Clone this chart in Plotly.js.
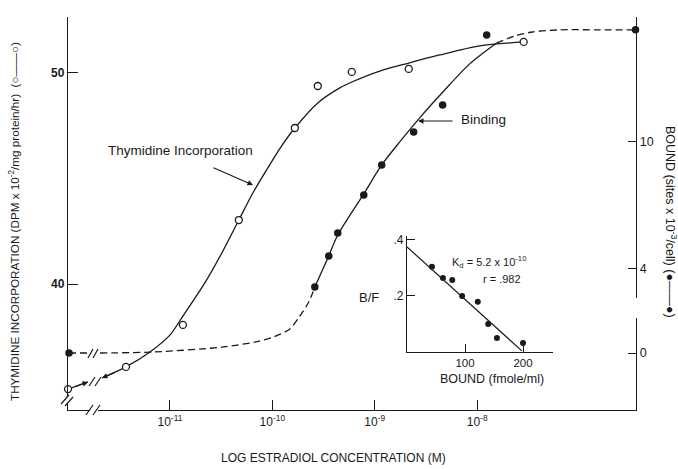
<!DOCTYPE html>
<html>
<head>
<meta charset="utf-8">
<script src="https://cdn.plot.ly/plotly-3.0.1.min.js"></script>
<style>html,body{margin:0;padding:0;background:#fff;}#chart{width:678px;height:469px;}</style>
</head>
<body>
<div id="chart"></div>
<script>
// ---- data (x = log10 molar concentration; -12 = no estradiol) ----
const CONC_THY = [-11.995, -11.429, -10.873, -10.327, -9.780, -9.556, -9.224, -8.668, -7.546];
const THYMIDINE = [35.02, 36.07, 38.06, 43.03, 47.39, 49.38, 50.05, 50.19, 51.47];

const CONC_BIND = [-11.985, -9.585, -9.449, -9.361, -9.107, -8.932, -8.620, -8.337, -7.907, -6.454];
const BINDING = [0, 3.13, 4.60, 5.69, 7.49, 8.91, 10.47, 11.75, 15.07, 15.31];

// hand-drawn curves
const THY_CURVE_X = [-11.995, -11.80, null, -11.663, -11.429, -11.195, -11.0, -10.873, -10.659, -10.493, -10.327, -10.190, -10.044, -9.917, -9.780, -9.556, -9.341, -9.224, -8.951, -8.668, -8.366, -7.976, -7.546];
const THY_CURVE_Y = [35.02, 35.36, null, 35.55, 36.07, 36.78, 37.58, 38.48, 40.05, 41.47, 43.03, 44.31, 45.50, 46.49, 47.39, 48.58, 49.29, 49.57, 50.09, 50.47, 50.85, 51.28, 51.47];

const BIND_LOW_X = [-11.985, -11.80, null, -11.683, -11.146, -10.493, -10.171, -9.990, -9.829, -9.732, -9.644, -9.585];
const BIND_LOW_Y = [0, 0, null, 0, 0.05, 0.28, 0.52, 0.76, 1.14, 1.75, 2.42, 3.13];
const BIND_MID_X = [-9.585, -9.449, -9.361, -9.107, -8.932, -8.756, -8.561, -8.317, -8.073, -7.810];
const BIND_MID_Y = [3.13, 4.60, 5.59, 7.54, 8.91, 10.0, 11.14, 12.46, 13.70, 14.69];
const BIND_HIGH_X = [-7.810, -7.634, -7.459, -7.195, -6.805, -6.454];
const BIND_HIGH_Y = [14.69, 15.02, 15.21, 15.31, 15.31, 15.31];

// Scatchard inset
const BOUND = [43, 62, 78, 95, 122, 140, 155, 200];
const B_OVER_F = [0.304, 0.264, 0.257, 0.200, 0.179, 0.100, 0.050, 0.032];
const FIT_BOUND = [0, 198];
const FIT_BF = [0.375, 0.004];

// tick labels
const X_TICKS = [-11, -10, -9, -8];
const X_TICKTEXT = ['10<sup>-11</sup>', '10<sup>-10</sup>', '10<sup>-9</sup>', '10<sup>-8</sup>'];
const LEFT_TICKS = [40, 50];
const RIGHT_TICKS = [0, 4, 10];
const INSET_X_TICKS = [100, 200];
const INSET_Y_TICKS = [0.2, 0.4];
const INSET_Y_TICKTEXT = ['.2', '.4'];

// ---- layout helpers (pixel -> paper) ----
const L = 68, R = 636, T = 17, B = 410;
const W = R - L, H = B - T;
const px = x => (x - L) / W;
const py = y => (B - y) / H;
const FONT = 'Liberation Sans, Arial, Helvetica, sans-serif';
const INK = '#1a1a1a';

const traces = [
  {x: THY_CURVE_X, y: THY_CURVE_Y, mode: 'lines', line: {color: INK, width: 1.3, shape: 'spline', smoothing: 0.8}, connectgaps: false, hoverinfo: 'skip', xaxis: 'x', yaxis: 'y'},
  {x: BIND_LOW_X, y: BIND_LOW_Y, mode: 'lines', line: {color: INK, width: 1.3, dash: '7px,4px', shape: 'spline', smoothing: 0.8}, connectgaps: false, xaxis: 'x', yaxis: 'y3'},
  {x: BIND_MID_X, y: BIND_MID_Y, mode: 'lines', line: {color: INK, width: 1.3, shape: 'spline', smoothing: 0.8}, xaxis: 'x', yaxis: 'y3'},
  {x: BIND_HIGH_X, y: BIND_HIGH_Y, mode: 'lines', line: {color: INK, width: 1.3, dash: '7px,4px', shape: 'spline', smoothing: 0.8}, xaxis: 'x', yaxis: 'y3'},
  {x: CONC_THY, y: THYMIDINE, mode: 'markers', marker: {symbol: 'circle', size: 7, color: '#ffffff', line: {color: INK, width: 1.3}}, xaxis: 'x', yaxis: 'y', cliponaxis: false},
  {x: CONC_BIND, y: BINDING, mode: 'markers', marker: {symbol: 'circle', size: 7.5, color: INK}, xaxis: 'x', yaxis: 'y3', cliponaxis: false},
  {x: FIT_BOUND, y: FIT_BF, mode: 'lines', line: {color: INK, width: 1.2}, xaxis: 'x2', yaxis: 'y2'},
  {x: BOUND, y: B_OVER_F, mode: 'markers', marker: {size: 6, color: INK}, xaxis: 'x2', yaxis: 'y2', cliponaxis: false}
];

const axLine = {showline: true, linecolor: INK, linewidth: 1.2, showgrid: false, zeroline: false, tickcolor: INK, tickwidth: 1};

const stroke = (x0, y0, x1, y1) => ({type: 'line', xref: 'paper', yref: 'paper', x0: px(x0), y0: py(y0), x1: px(x1), y1: py(y1), line: {color: INK, width: 1.2}});
const gap = (x0, y0, x1, y1) => ({type: 'rect', xref: 'paper', yref: 'paper', x0: px(x0), y0: py(y0), x1: px(x1), y1: py(y1), fillcolor: '#ffffff', line: {width: 0}, layer: 'above'});

const shapes = [
  // left axis break
  gap(64, 397, 72, 404), stroke(61, 404, 69, 395), stroke(65, 406, 73, 397),
  // bottom axis break
  gap(90, 407, 98, 413), stroke(86, 415, 93, 405), stroke(93, 415, 100, 405),
  // right axis break
  gap(632, 298, 640, 318),
  // curve breaks
  stroke(89, 386, 95, 377), stroke(95, 386, 101, 377),
  stroke(88, 358, 93, 349), stroke(93, 358, 98, 349)
];

const ann = (text, x, y, opts) => Object.assign({text: text, xref: 'paper', yref: 'paper', x: px(x), y: py(y), showarrow: false, xanchor: 'center', yanchor: 'middle', font: {family: FONT, size: 12, color: INK}}, opts || {});
const arrow = (hx, hy, tx, ty) => ({text: '', xref: 'paper', yref: 'paper', x: px(hx), y: py(hy), ax: tx - hx, ay: ty - hy, axref: 'pixel', ayref: 'pixel', showarrow: true, arrowhead: 2, arrowsize: 1, arrowwidth: 1.1, arrowcolor: INK});

const annotations = [
  ann('Thymidine Incorporation', 180, 150, {font: {family: FONT, size: 13.5, color: INK}}),
  arrow(253, 185, 212, 167),
  ann('Binding', 483, 120, {font: {family: FONT, size: 13.5, color: INK}}),
  arrow(418, 121, 454, 121),
  arrow(88, 382, 74, 387),
  arrow(102, 378, 116, 372),
  ann('THYMIDINE INCORPORATION (DPM x 10<sup>-2</sup>/mg protein/hr)  (○——○)', 14, 222, {textangle: -90, font: {family: FONT, size: 11.7, color: INK}}),
  ann('BOUND (sites x 10<sup>-3</sup>/cell) (●——●)', 671, 222, {textangle: 90, font: {family: FONT, size: 12.5, color: INK}}),
  ann('LOG ESTRADIOL CONCENTRATION (M)', 333, 458, {font: {family: FONT, size: 12, color: INK}}),
  ann('B/F', 369, 297, {font: {family: FONT, size: 13, color: INK}}),
  ann('K<sub>d</sub> = 5.2 x 10<sup>-10</sup>', 489, 262, {font: {family: FONT, size: 11, color: INK}}),
  ann('r = .982', 502, 279, {font: {family: FONT, size: 11, color: INK}}),
  ann('BOUND (fmole/ml)', 492, 379, {font: {family: FONT, size: 12.5, color: INK}})
];

const layout = {
  width: 678, height: 469,
  margin: {l: L, r: 678 - R, t: T, b: 469 - B, pad: 0},
  paper_bgcolor: '#ffffff', plot_bgcolor: '#ffffff',
  showlegend: false,
  font: {family: FONT, color: INK},
  xaxis: Object.assign({}, axLine, {domain: [0, 1], anchor: 'y', range: [-11.995, -6.449], tickmode: 'array', tickvals: X_TICKS, ticktext: X_TICKTEXT, ticks: 'inside', ticklen: 10, tickfont: {family: FONT, size: 12, color: INK}}),
  yaxis: Object.assign({}, axLine, {domain: [0, 1], anchor: 'x', range: [34.03, 52.65], tickmode: 'array', tickvals: LEFT_TICKS, ticks: 'inside', ticklen: 10, tickfont: {family: FONT, size: 12, color: INK, weight: 'bold'}}),
  yaxis3: Object.assign({}, axLine, {overlaying: 'y', side: 'right', anchor: 'x', range: [-2.70, 15.92], tickmode: 'array', tickvals: RIGHT_TICKS, ticks: 'inside', ticklen: 8, tickfont: {family: FONT, size: 12.5, color: INK}}),
  xaxis2: Object.assign({}, axLine, {domain: [px(407), px(553)], anchor: 'y2', range: [0, 251.7], tickmode: 'array', tickvals: INSET_X_TICKS, ticks: 'inside', ticklen: 8, tickfont: {family: FONT, size: 11.5, color: INK}}),
  yaxis2: Object.assign({}, axLine, {domain: [py(352), py(236)], anchor: 'x2', range: [0, 0.414], tickmode: 'array', tickvals: INSET_Y_TICKS, ticktext: INSET_Y_TICKTEXT, ticks: 'inside', ticklen: 8, tickfont: {family: FONT, size: 12, color: INK}}),
  shapes: shapes,
  annotations: annotations
};

Plotly.newPlot('chart', traces, layout, {staticPlot: true, displayModeBar: false});
</script>
</body>
</html>
